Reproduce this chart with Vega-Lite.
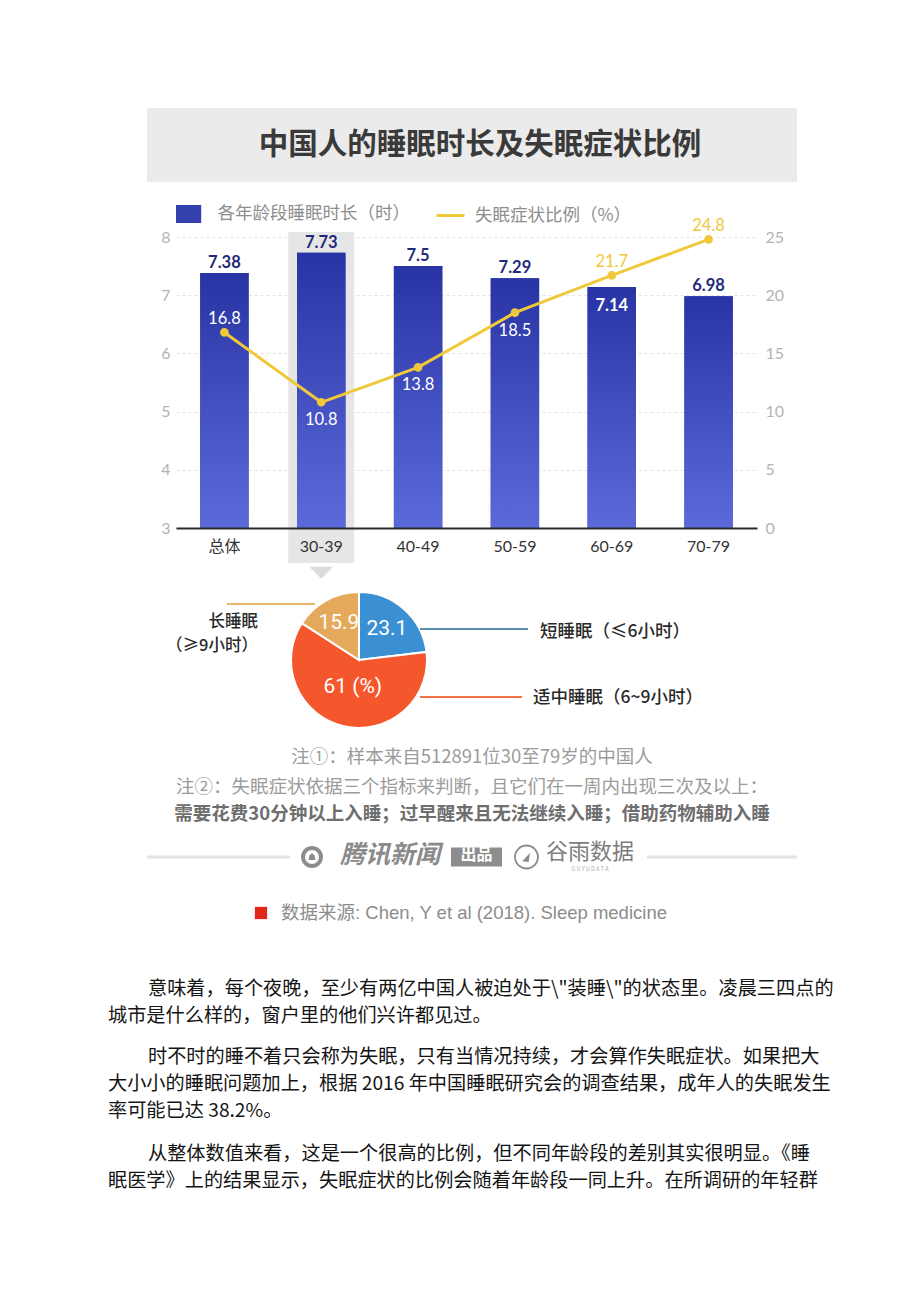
{
  "$schema": "https://vega.github.io/schema/vega-lite/v6.json",
  "padding": 0,
  "background": "white",
  "spacing": 0,
  "resolve": {"scale": {"fill": "independent", "stroke": "independent", "color": "independent", "theta": "independent"}},
  "config": {
    "view": {"stroke": null},
    "font": "Noto Sans CJK SC",
    "concat": {"spacing": 0}
  },
  "datasets": {
    "sleep": [
      {"age": "总体", "hours": 7.38, "insomnia": 16.8},
      {"age": "30-39", "hours": 7.73, "insomnia": 10.8},
      {"age": "40-49", "hours": 7.5, "insomnia": 13.8},
      {"age": "50-59", "hours": 7.29, "insomnia": 18.5},
      {"age": "60-69", "hours": 7.14, "insomnia": 21.7},
      {"age": "70-79", "hours": 6.98, "insomnia": 24.8}
    ],
    "focus": [{"age": "30-39"}],
    "pie": [
      {"group": "短睡眠", "share": 23.1, "label": "23.1", "k": 1},
      {"group": "适中睡眠", "share": 61, "label": "61 (%)", "k": 2},
      {"group": "长睡眠", "share": 15.9, "label": "15.9", "k": 3}
    ],
    "para": [
      {"p": 1, "line": 1, "t": "意味着，每个夜晚，至少有两亿中国人被迫处于\\\"装睡\\\"的状态里。凌晨三四点的"},
      {"p": 1, "line": 2, "t": "城市是什么样的，窗户里的他们兴许都见过。"},
      {"p": 2, "line": 1, "t": "时不时的睡不着只会称为失眠，只有当情况持续，才会算作失眠症状。如果把大"},
      {"p": 2, "line": 2, "t": "大小小的睡眠问题加上，根据 2016 年中国睡眠研究会的调查结果，成年人的失眠发生"},
      {"p": 2, "line": 3, "t": "率可能已达 38.2%。"},
      {"p": 3, "line": 1, "t": "从整体数值来看，这是一个很高的比例，但不同年龄段的差别其实很明显。《睡"},
      {"p": 3, "line": 2, "t": "眠医学》上的结果显示，失眠症状的比例会随着年龄段一同上升。在所调研的年轻群"}
    ]
  },
  "vconcat": [
    {"width": 920, "height": 108, "data": {"values": [{}]}, "mark": {"type": "point", "opacity": 0}},
    {
      "hconcat": [
        {"width": 147, "height": 74, "data": {"values": [{}]}, "mark": {"type": "point", "opacity": 0}},
        {
          "width": 650, "height": 74,
          "view": {"fill": "#ebebeb"},
          "data": {"values": [{"t": "中国人的睡眠时长及失眠症状比例"}]},
          "mark": {"type": "text", "fontSize": 29.5, "fontWeight": "bold", "fill": "#3a3a3a", "dx": 8, "baseline": "middle"},
          "encoding": {"text": {"field": "t", "type": "nominal"}}
        },
        {"width": 123, "height": 74, "data": {"values": [{}]}, "mark": {"type": "point", "opacity": 0}}
      ],
      "spacing": 0, "bounds": "flush"
    },
    {"width": 920, "height": 18, "data": {"values": [{}]}, "mark": {"type": "point", "opacity": 0}},
    {
      "hconcat": [
        {"width": 176, "height": 291, "data": {"values": [{}]}, "mark": {"type": "point", "opacity": 0}},
        {
          "width": 581, "height": 291,
          "data": {"name": "sleep"},
          "encoding": {
            "x": {
              "field": "age", "type": "nominal", "sort": null,
              "scale": {"domain": ["总体", "30-39", "40-49", "50-59", "60-69", "70-79"], "paddingInner": 0.5, "paddingOuter": 0.25},
              "axis": {"title": null, "labelAngle": 0, "ticks": false, "domainColor": "#2b2b2b", "domainWidth": 2, "labelColor": "#333333", "labelFontSize": 16, "labelPadding": 10, "labelFont": "Lato, Noto Sans CJK SC", "zindex": 1}
            }
          },
          "layer": [
            {
              "layer": [
                {
                  "data": {"name": "focus"},
                  "mark": {"type": "bar", "color": "#e6e6e6", "width": {"band": 1.364}},
                  "encoding": {
                    "y": {"datum": 8.086, "type": "quantitative", "scale": {"domain": [3, 8], "nice": false, "zero": false}, "title": null},
                    "y2": {"datum": 2.4}
                  }
                },
                {
                  "data": {"name": "focus"},
                  "mark": {"type": "point", "shape": "M-1,-0.5L1,-0.5L0,0.5Z", "size": 576, "filled": true, "color": "#dcdcdc", "opacity": 1},
                  "encoding": {
                    "y": {"datum": 2.23, "type": "quantitative", "scale": {"domain": [3, 8], "nice": false, "zero": false}, "title": null}
                  }
                },
                {
                  "mark": {"type": "bar"},
                  "encoding": {
                    "y": {
                      "field": "hours", "type": "quantitative", "title": null,
                      "scale": {"domain": [3, 8], "nice": false, "zero": false},
                      "axis": {"orient": "left", "values": [3, 4, 5, 6, 7, 8], "format": "d", "grid": true, "gridColor": "#e2e2e2", "gridDash": [3, 3], "gridWidth": 1, "domain": false, "ticks": false, "labelColor": "#b3b3b3", "labelFontSize": 16, "labelPadding": 6, "labelFont": "Lato", "title": null}
                    },
                    "y2": {"datum": 3},
                    "fill": {
                      "datum": "各年龄段睡眠时长（时）", "type": "nominal",
                      "scale": {"range": ["#3440ae"]},
                      "legend": {"orient": "none", "legendX": 3.6, "legendY": -32, "title": null, "symbolType": "M-1.4,-1L1.4,-1L1.4,1L-1.4,1Z", "symbolSize": 324, "symbolStrokeWidth": 0, "labelFontSize": 17.5, "labelColor": "#8e8e8e", "labelOffset": 20, "labelLimit": 400, "labelFont": "Noto Sans CJK SC", "padding": 0}
                    }
                  }
                },
                {
                  "mark": {"type": "bar", "fill": {"gradient": "linear", "x1": 0, "y1": 0, "x2": 0, "y2": 1, "stops": [{"offset": 0, "color": "#2934a4"}, {"offset": 1, "color": "#5c6ad9"}]}},
                  "encoding": {
                    "y": {"field": "hours", "type": "quantitative", "title": null},
                    "y2": {"datum": 3}
                  }
                },
                {
                  "transform": [{"filter": {"not": {"field": "age", "equal": "60-69"}}}],
                  "mark": {"type": "text", "baseline": "middle", "dy": -10, "fontSize": 16.5, "fontWeight": "bold", "font": "Lato", "fill": "#1f2b7a"},
                  "encoding": {
                    "y": {"field": "hours", "type": "quantitative", "title": null},
                    "text": {"field": "hours", "type": "quantitative"}
                  }
                },
                {
                  "transform": [{"filter": {"field": "age", "equal": "60-69"}}],
                  "mark": {"type": "text", "baseline": "middle", "dy": 19, "fontSize": 16.5, "fontWeight": "bold", "font": "Lato", "fill": "white"},
                  "encoding": {
                    "y": {"field": "hours", "type": "quantitative", "title": null},
                    "text": {"field": "hours", "type": "quantitative"}
                  }
                }
              ]
            },
            {
              "layer": [
                {
                  "mark": {"type": "line", "strokeWidth": 3, "point": {"filled": true, "size": 45, "fill": "#f0c93b"}},
                  "encoding": {
                    "y": {
                      "field": "insomnia", "type": "quantitative", "title": null,
                      "scale": {"domain": [0, 25], "nice": false},
                      "axis": {"orient": "right", "values": [0, 5, 10, 15, 20, 25], "grid": false, "domain": false, "ticks": false, "labelColor": "#b3b3b3", "labelFontSize": 16, "labelPadding": 8, "labelFont": "Lato", "title": null}
                    },
                    "stroke": {
                      "datum": "失眠症状比例（%）", "type": "nominal",
                      "scale": {"range": ["#f0c93b"]},
                      "legend": {"orient": "none", "legendX": 259, "legendY": -37, "title": null, "symbolType": "stroke", "symbolSize": 784, "symbolStrokeWidth": 3, "labelFontSize": 17.5, "labelColor": "#8e8e8e", "labelOffset": 9, "labelLimit": 400, "labelFont": "Noto Sans CJK SC", "padding": 0}
                    }
                  }
                },
                {
                  "transform": [{"filter": {"field": "age", "equal": "总体"}}],
                  "mark": {"type": "text", "baseline": "middle", "dy": -13, "fontSize": 16.5, "font": "Lato", "fill": "white"},
                  "encoding": {
                    "y": {"field": "insomnia", "type": "quantitative", "title": null},
                    "text": {"field": "insomnia", "type": "quantitative"}
                  }
                },
                {
                  "transform": [{"filter": {"field": "age", "oneOf": ["60-69", "70-79"]}}],
                  "mark": {"type": "text", "baseline": "middle", "dy": -13, "fontSize": 16.5, "font": "Lato", "fill": "#f0c93b"},
                  "encoding": {
                    "y": {"field": "insomnia", "type": "quantitative", "title": null},
                    "text": {"field": "insomnia", "type": "quantitative"}
                  }
                },
                {
                  "transform": [{"filter": {"field": "age", "oneOf": ["30-39", "40-49", "50-59"]}}],
                  "mark": {"type": "text", "baseline": "middle", "dy": 18, "fontSize": 16.5, "font": "Lato", "fill": "white"},
                  "encoding": {
                    "y": {"field": "insomnia", "type": "quantitative", "title": null},
                    "text": {"field": "insomnia", "type": "quantitative"}
                  }
                }
              ]
            }
          ],
          "resolve": {"scale": {"y": "independent"}}
        },
        {"width": 163, "height": 291, "data": {"values": [{}]}, "mark": {"type": "point", "opacity": 0}}
      ],
      "spacing": 0, "bounds": "flush",
      "resolve": {"scale": {"fill": "independent", "stroke": "independent"}}
    },
    {"width": 920, "height": 6, "data": {"values": [{}]}, "mark": {"type": "point", "opacity": 0}},
    {
      "hconcat": [
        {"width": 147, "height": 150, "data": {"values": [{}]}, "mark": {"type": "point", "opacity": 0}},
        {
          "width": 424, "height": 150,
          "data": {"name": "pie"},
          "layer": [
            {
              "mark": {"type": "arc", "outerRadius": 68, "stroke": "white", "strokeWidth": 2},
              "encoding": {
                "theta": {"field": "share", "type": "quantitative", "stack": true},
                "order": {"field": "k", "type": "quantitative"},
                "color": {"field": "group", "type": "nominal", "scale": {"domain": ["短睡眠", "适中睡眠", "长睡眠"], "range": ["#3b8fd3", "#f5572c", "#e5a95c"]}, "legend": null}
              }
            },
            {
              "mark": {"type": "text", "radius": 42, "fill": "white", "fontSize": 21, "font": "Liberation Sans Narrow, Roboto", "baseline": "middle"},
              "encoding": {
                "theta": {"field": "share", "type": "quantitative", "stack": true},
                "order": {"field": "k", "type": "quantitative"},
                "detail": {"field": "group", "type": "nominal"},
                "text": {"condition": {"test": "datum.k === 2", "value": ""}, "field": "label", "type": "nominal"}
              }
            },
            {
              "mark": {"type": "text", "radius": 28, "fill": "white", "fontSize": 21, "font": "Liberation Sans Narrow, Roboto", "baseline": "middle"},
              "encoding": {
                "theta": {"field": "share", "type": "quantitative", "stack": true},
                "order": {"field": "k", "type": "quantitative"},
                "detail": {"field": "group", "type": "nominal"},
                "text": {"condition": {"test": "datum.k !== 2", "value": ""}, "field": "label", "type": "nominal"}
              }
            },
            {
              "data": {"values": [{}]},
              "mark": {"type": "rule", "color": "#e6b46a", "strokeWidth": 2},
              "encoding": {
                "x": {"datum": -1.941, "type": "quantitative", "scale": {"domain": [-3.1176, 3.1176], "nice": false, "zero": false}, "axis": null},
                "x2": {"datum": -0.647},
                "y": {"datum": 0.824, "type": "quantitative", "scale": {"domain": [-1.1029, 1.1029], "nice": false, "zero": false}, "axis": null}
              }
            },
            {
              "data": {"values": [{}]},
              "mark": {"type": "rule", "color": "#5b8cab", "strokeWidth": 2},
              "encoding": {
                "x": {"datum": 0.897, "type": "quantitative", "axis": null},
                "x2": {"datum": 2.485},
                "y": {"datum": 0.456, "type": "quantitative", "axis": null}
              }
            },
            {
              "data": {"values": [{}]},
              "mark": {"type": "rule", "color": "#f07245", "strokeWidth": 2},
              "encoding": {
                "x": {"datum": 0.897, "type": "quantitative", "axis": null},
                "x2": {"datum": 2.397},
                "y": {"datum": -0.544, "type": "quantitative", "axis": null}
              }
            },
            {
              "data": {"values": [{"t": "长睡眠"}]},
              "mark": {"type": "text", "align": "right", "baseline": "middle", "fontSize": 16.5, "fontWeight": 500, "fill": "#2a2a2a"},
              "encoding": {
                "x": {"datum": -1.485, "type": "quantitative", "axis": null},
                "y": {"datum": 0.56, "type": "quantitative", "axis": null},
                "text": {"field": "t", "type": "nominal"}
              }
            },
            {
              "data": {"values": [{"t": "（≥9小时）"}]},
              "mark": {"type": "text", "align": "right", "baseline": "middle", "fontSize": 16.5, "fontWeight": 500, "fill": "#2a2a2a"},
              "encoding": {
                "x": {"datum": -1.485, "type": "quantitative", "axis": null},
                "y": {"datum": 0.2, "type": "quantitative", "axis": null},
                "text": {"field": "t", "type": "nominal"}
              }
            },
            {
              "data": {"values": [{"t": "短睡眠（≤6小时）"}]},
              "mark": {"type": "text", "align": "left", "baseline": "middle", "fontSize": 17.5, "fontWeight": 500, "fill": "#2a2a2a"},
              "encoding": {
                "x": {"datum": 2.662, "type": "quantitative", "axis": null},
                "y": {"datum": 0.412, "type": "quantitative", "axis": null},
                "text": {"field": "t", "type": "nominal"}
              }
            },
            {
              "data": {"values": [{"t": "适中睡眠（6~9小时）"}]},
              "mark": {"type": "text", "align": "left", "baseline": "middle", "fontSize": 17.5, "fontWeight": 500, "fill": "#2a2a2a"},
              "encoding": {
                "x": {"datum": 2.559, "type": "quantitative", "axis": null},
                "y": {"datum": -0.559, "type": "quantitative", "axis": null},
                "text": {"field": "t", "type": "nominal"}
              }
            }
          ]
        },
        {"width": 349, "height": 150, "data": {"values": [{}]}, "mark": {"type": "point", "opacity": 0}}
      ],
      "spacing": 0, "bounds": "flush",
      "resolve": {"scale": {"color": "independent", "theta": "independent"}}
    },
    {
      "hconcat": [
        {"width": 147, "height": 37, "data": {"values": [{}]}, "mark": {"type": "point", "opacity": 0}},
        {
          "width": 650, "height": 37,
          "data": {"values": [{"t": "注①：样本来自512891位30至79岁的中国人"}]},
          "mark": {"type": "text", "fontSize": 18.5, "fill": "#9b9b9b", "baseline": "middle", "dy": 3.5},
          "encoding": {"text": {"field": "t", "type": "nominal"}}
        },
        {"width": 123, "height": 37, "data": {"values": [{}]}, "mark": {"type": "point", "opacity": 0}}
      ],
      "spacing": 0, "bounds": "flush"
    },
    {
      "hconcat": [
        {"width": 147, "height": 29, "data": {"values": [{}]}, "mark": {"type": "point", "opacity": 0}},
        {
          "width": 650, "height": 29,
          "data": {"values": [{"t": "注②：失眠症状依据三个指标来判断，且它们在一周内出现三次及以上："}]},
          "mark": {"type": "text", "fontSize": 18.5, "fill": "#9b9b9b", "baseline": "middle", "dy": 0.5},
          "encoding": {"text": {"field": "t", "type": "nominal"}}
        },
        {"width": 123, "height": 29, "data": {"values": [{}]}, "mark": {"type": "point", "opacity": 0}}
      ],
      "spacing": 0, "bounds": "flush"
    },
    {
      "hconcat": [
        {"width": 147, "height": 30, "data": {"values": [{}]}, "mark": {"type": "point", "opacity": 0}},
        {
          "width": 650, "height": 30,
          "data": {"values": [{"t": "需要花费30分钟以上入睡；过早醒来且无法继续入睡；借助药物辅助入睡"}]},
          "mark": {"type": "text", "fontSize": 18.5, "fontWeight": "bold", "fill": "#6e6e6e", "baseline": "middle", "dy": -2},
          "encoding": {"text": {"field": "t", "type": "nominal"}}
        },
        {"width": 123, "height": 30, "data": {"values": [{}]}, "mark": {"type": "point", "opacity": 0}}
      ],
      "spacing": 0, "bounds": "flush"
    },
    {
      "hconcat": [
        {"width": 147, "height": 52, "data": {"values": [{}]}, "mark": {"type": "point", "opacity": 0}},
        {"width": 143, "height": 52, "data": {"values": [{}]}, "mark": {"type": "rule", "color": "#e3e3e3", "strokeWidth": 3}, "encoding": {"y": {"datum": 0.5, "type": "quantitative", "scale": {"domain": [0, 1]}, "axis": null}}},
        {"width": 12, "height": 52, "data": {"values": [{}]}, "mark": {"type": "point", "opacity": 0}},
        {
          "width": 20, "height": 52, "data": {"values": [{}]},
          "layer": [
            {"mark": {"type": "point", "shape": "circle", "size": 484, "filled": true, "color": "#8d8d8d", "opacity": 1, "dy": -2}},
            {"mark": {"type": "point", "shape": "circle", "size": 196, "filled": true, "color": "#ffffff", "opacity": 1, "dy": -2}},
            {"mark": {"type": "point", "shape": "M-0.7,0.6L-0.5,-0.3L0,-0.8L0.5,-0.3L0.7,0.6Z", "size": 100, "filled": true, "color": "#8d8d8d", "opacity": 1, "dy": -2}}
          ]
        },
        {"width": 15, "height": 52, "data": {"values": [{}]}, "mark": {"type": "point", "opacity": 0}},
        {
          "width": 106, "height": 52,
          "data": {"values": [{"t": "腾讯新闻"}]},
          "mark": {"type": "text", "fontSize": 25, "fontWeight": "bold", "fontStyle": "italic", "fill": "#8a8a8a", "baseline": "middle", "dy": -2},
          "encoding": {"text": {"field": "t", "type": "nominal"}}
        },
        {"width": 8, "height": 52, "data": {"values": [{}]}, "mark": {"type": "point", "opacity": 0}},
        {
          "width": 51, "height": 52,
          "data": {"values": [{"t": "出品"}]},
          "layer": [
            {"mark": {"type": "point", "shape": "M-1,-0.37L1,-0.37L1,0.37L-1,0.37Z", "size": 2601, "filled": true, "color": "#8d8d8d", "opacity": 1, "dy": -2}},
            {"mark": {"type": "text", "fontSize": 16, "fontWeight": "bold", "fill": "white", "baseline": "middle", "dy": -2}, "encoding": {"text": {"field": "t", "type": "nominal"}}}
          ]
        },
        {"width": 13, "height": 52, "data": {"values": [{}]}, "mark": {"type": "point", "opacity": 0}},
        {
          "width": 23, "height": 52, "data": {"values": [{}]},
          "layer": [
            {"mark": {"type": "point", "shape": "circle", "size": 529, "filled": false, "color": "#8d8d8d", "strokeWidth": 1.8, "opacity": 1, "dy": -2}},
            {"mark": {"type": "point", "shape": "M-0.6,0.6L0.5,-0.6L0.3,0.7Z", "size": 200, "filled": true, "color": "#8d8d8d", "opacity": 1, "dy": -2}}
          ]
        },
        {"width": 5, "height": 52, "data": {"values": [{}]}, "mark": {"type": "point", "opacity": 0}},
        {
          "width": 94, "height": 52,
          "data": {"values": [{"t": "谷雨数据", "s": "G U Y U D A T A"}]},
          "layer": [
            {"mark": {"type": "text", "fontSize": 22, "fill": "#7d7d7d", "baseline": "middle", "dy": -5}, "encoding": {"text": {"field": "t", "type": "nominal"}}},
            {"mark": {"type": "text", "fontSize": 5.5, "fill": "#aaaaaa", "baseline": "middle", "dy": 12}, "encoding": {"text": {"field": "s", "type": "nominal"}}}
          ]
        },
        {"width": 10, "height": 52, "data": {"values": [{}]}, "mark": {"type": "point", "opacity": 0}},
        {"width": 150, "height": 52, "data": {"values": [{}]}, "mark": {"type": "rule", "color": "#e3e3e3", "strokeWidth": 3}, "encoding": {"y": {"datum": 0.5, "type": "quantitative", "scale": {"domain": [0, 1]}, "axis": null}}},
        {"width": 123, "height": 52, "data": {"values": [{}]}, "mark": {"type": "point", "opacity": 0}}
      ],
      "spacing": 0, "bounds": "flush"
    },
    {
      "hconcat": [
        {"width": 255, "height": 60, "data": {"values": [{}]}, "mark": {"type": "point", "opacity": 0}},
        {"width": 12, "height": 60, "data": {"values": [{}]}, "mark": {"type": "point", "shape": "square", "size": 150, "filled": true, "color": "#e2261a", "opacity": 1}},
        {"width": 14, "height": 60, "data": {"values": [{}]}, "mark": {"type": "point", "opacity": 0}},
        {
          "width": 420, "height": 60,
          "data": {"values": [{"t": "数据来源:  Chen, Y et al (2018).  Sleep medicine"}]},
          "mark": {"type": "text", "align": "left", "baseline": "middle", "fontSize": 18.5, "fill": "#8c8c8c", "font": "Liberation Sans, Noto Sans CJK SC"},
          "encoding": {
            "x": {"datum": 0, "type": "quantitative", "scale": {"domain": [0, 1]}, "axis": null},
            "text": {"field": "t", "type": "nominal"}
          }
        },
        {"width": 219, "height": 60, "data": {"values": [{}]}, "mark": {"type": "point", "opacity": 0}}
      ],
      "spacing": 0, "bounds": "flush"
    },
    {"width": 920, "height": 32, "data": {"values": [{}]}, "mark": {"type": "point", "opacity": 0}},
    {
      "hconcat": [
        {"width": 108, "height": 54, "data": {"values": [{}]}, "mark": {"type": "point", "opacity": 0}},
        {
          "width": 707, "height": 54,
          "data": {"name": "para"},
          "transform": [{"filter": "datum.p == 1"}],
          "encoding": {
            "x": {"datum": 0, "type": "quantitative", "scale": {"domain": [0, 1]}, "axis": null},
            "y": {"field": "line", "type": "ordinal", "scale": {"type": "point", "padding": 0.5}, "axis": null},
            "text": {"field": "t", "type": "nominal"}
          },
          "layer": [
            {"transform": [{"filter": "datum.line == 1"}], "mark": {"type": "text", "align": "left", "baseline": "middle", "fontSize": 19.2, "fill": "#141414", "dx": 40}},
            {"transform": [{"filter": "datum.line > 1"}], "mark": {"type": "text", "align": "left", "baseline": "middle", "fontSize": 19.2, "fill": "#141414"}}
          ]
        },
        {"width": 105, "height": 54, "data": {"values": [{}]}, "mark": {"type": "point", "opacity": 0}}
      ],
      "spacing": 0, "bounds": "flush"
    },
    {"width": 920, "height": 14, "data": {"values": [{}]}, "mark": {"type": "point", "opacity": 0}},
    {
      "hconcat": [
        {"width": 108, "height": 81, "data": {"values": [{}]}, "mark": {"type": "point", "opacity": 0}},
        {
          "width": 707, "height": 81,
          "data": {"name": "para"},
          "transform": [{"filter": "datum.p == 2"}],
          "encoding": {
            "x": {"datum": 0, "type": "quantitative", "scale": {"domain": [0, 1]}, "axis": null},
            "y": {"field": "line", "type": "ordinal", "scale": {"type": "point", "padding": 0.5}, "axis": null},
            "text": {"field": "t", "type": "nominal"}
          },
          "layer": [
            {"transform": [{"filter": "datum.line == 1"}], "mark": {"type": "text", "align": "left", "baseline": "middle", "fontSize": 19.2, "fill": "#141414", "dx": 40}},
            {"transform": [{"filter": "datum.line > 1"}], "mark": {"type": "text", "align": "left", "baseline": "middle", "fontSize": 19.2, "fill": "#141414"}}
          ]
        },
        {"width": 105, "height": 81, "data": {"values": [{}]}, "mark": {"type": "point", "opacity": 0}}
      ],
      "spacing": 0, "bounds": "flush"
    },
    {"width": 920, "height": 16, "data": {"values": [{}]}, "mark": {"type": "point", "opacity": 0}},
    {
      "hconcat": [
        {"width": 108, "height": 54, "data": {"values": [{}]}, "mark": {"type": "point", "opacity": 0}},
        {
          "width": 707, "height": 54,
          "data": {"name": "para"},
          "transform": [{"filter": "datum.p == 3"}],
          "encoding": {
            "x": {"datum": 0, "type": "quantitative", "scale": {"domain": [0, 1]}, "axis": null},
            "y": {"field": "line", "type": "ordinal", "scale": {"type": "point", "padding": 0.5}, "axis": null},
            "text": {"field": "t", "type": "nominal"}
          },
          "layer": [
            {"transform": [{"filter": "datum.line == 1"}], "mark": {"type": "text", "align": "left", "baseline": "middle", "fontSize": 19.2, "fill": "#141414", "dx": 40}},
            {"transform": [{"filter": "datum.line > 1"}], "mark": {"type": "text", "align": "left", "baseline": "middle", "fontSize": 19.2, "fill": "#141414"}}
          ]
        },
        {"width": 105, "height": 54, "data": {"values": [{}]}, "mark": {"type": "point", "opacity": 0}}
      ],
      "spacing": 0, "bounds": "flush"
    },
    {"width": 920, "height": 108, "data": {"values": [{}]}, "mark": {"type": "point", "opacity": 0}}
  ]
}
